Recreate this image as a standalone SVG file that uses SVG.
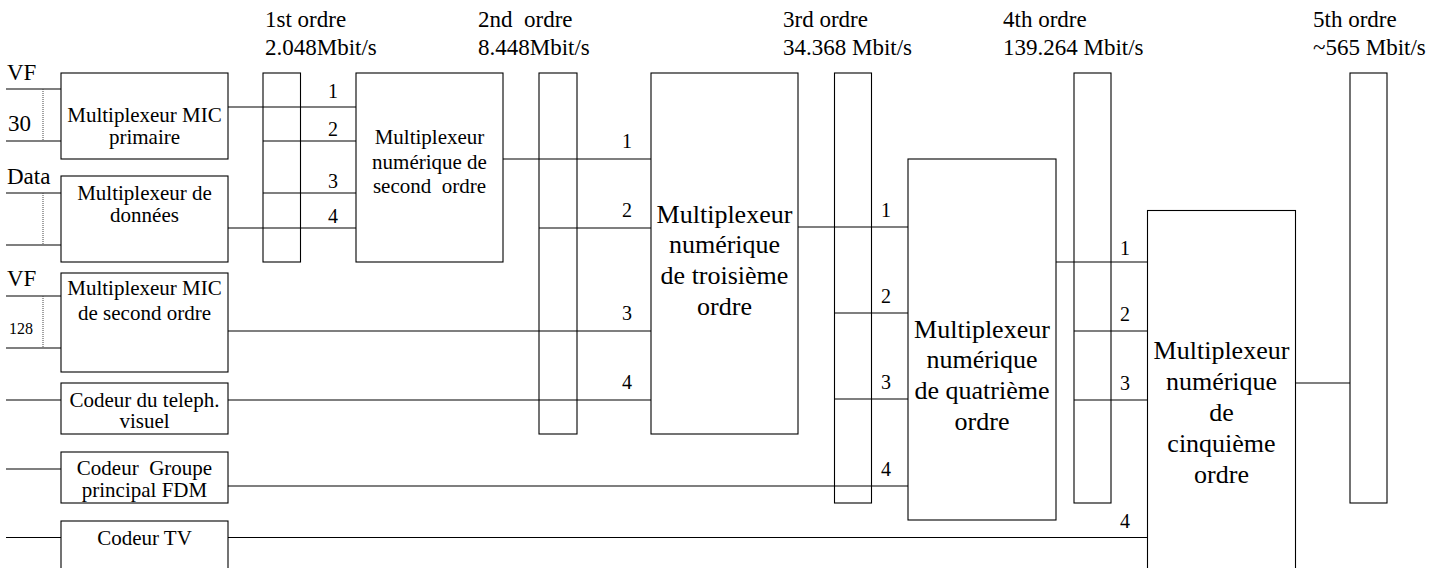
<svg xmlns="http://www.w3.org/2000/svg" width="1434" height="568" viewBox="0 0 1434 568">
<style>
  .box { fill: #fff; stroke: #000; stroke-width: 1.1; }
  .bar { fill: none; stroke: #000; stroke-width: 1.1; }
  .ln { stroke: #000; stroke-width: 1.1; fill: none; }
  .dot { stroke: #444; stroke-width: 1; stroke-dasharray: 1 1; fill: none; }
  text { font-family: "Liberation Serif", "Times New Roman", serif; fill: #000; }
  .s { font-size: 21px; text-anchor: middle; }
  .b { font-size: 26px; text-anchor: middle; }
  .h { font-size: 23px; }
  .n { font-size: 20px; text-anchor: middle; }
  .in { font-size: 23px; }
</style>
<rect width="1434" height="568" fill="#fff"/>

<g id="headers">
  <text class="h" x="265" y="27">1st ordre</text>
  <text class="h" x="265" y="55">2.048Mbit/s</text>
  <text class="h" x="478" y="27" xml:space="preserve">2nd  ordre</text>
  <text class="h" x="478" y="55">8.448Mbit/s</text>
  <text class="h" x="783" y="27">3rd ordre</text>
  <text class="h" x="783" y="55">34.368 Mbit/s</text>
  <text class="h" x="1003" y="27">4th ordre</text>
  <text class="h" x="1003" y="55">139.264 Mbit/s</text>
  <text class="h" x="1313" y="27">5th ordre</text>
  <text class="h" x="1313" y="55">~565 Mbit/s</text>
</g>

<g id="inputs">
  <text class="in" x="7" y="80" font-size="24">VF</text>
  <text class="in" x="8" y="131">30</text>
  <text class="in" x="7" y="184" font-size="24">Data</text>
  <text class="in" x="7" y="286" font-size="24">VF</text>
  <text x="9" y="334" font-size="16">128</text>
</g>

<g id="connectors">
  <line class="ln" x1="6" y1="89" x2="61" y2="89"/>
  <line class="ln" x1="6" y1="141" x2="61" y2="141"/>
  <line class="ln" x1="6" y1="193" x2="61" y2="193"/>
  <line class="ln" x1="6" y1="245" x2="61" y2="245"/>
  <line class="ln" x1="6" y1="296" x2="61" y2="296"/>
  <line class="ln" x1="6" y1="348" x2="61" y2="348"/>
  <line class="ln" x1="6" y1="400" x2="61" y2="400"/>
  <line class="ln" x1="6" y1="469" x2="61" y2="469"/>
  <line class="ln" x1="6" y1="537.5" x2="61" y2="537.5"/>
  <line class="dot" x1="43" y1="89" x2="43" y2="141"/>
  <line class="dot" x1="43" y1="193" x2="43" y2="245"/>
  <line class="dot" x1="43" y1="296" x2="43" y2="348"/>

  <line class="ln" x1="228" y1="107" x2="356" y2="107"/>
  <line class="ln" x1="263" y1="141" x2="356" y2="141"/>
  <line class="ln" x1="263" y1="193" x2="356" y2="193"/>
  <line class="ln" x1="228" y1="228" x2="356" y2="228"/>

  <line class="ln" x1="503" y1="159" x2="651" y2="159"/>
  <line class="ln" x1="539" y1="228" x2="651" y2="228"/>
  <line class="ln" x1="228" y1="331" x2="651" y2="331"/>
  <line class="ln" x1="228" y1="400" x2="651" y2="400"/>

  <line class="ln" x1="798" y1="227" x2="908" y2="227"/>
  <line class="ln" x1="834.5" y1="313" x2="908" y2="313"/>
  <line class="ln" x1="834.5" y1="399" x2="908" y2="399"/>
  <line class="ln" x1="228" y1="486" x2="908" y2="486"/>

  <line class="ln" x1="1056" y1="262" x2="1147.5" y2="262"/>
  <line class="ln" x1="1074" y1="331" x2="1147.5" y2="331"/>
  <line class="ln" x1="1074" y1="400" x2="1147.5" y2="400"/>
  <line class="ln" x1="228" y1="537.5" x2="1147.5" y2="537.5"/>

  <line class="ln" x1="1295.5" y1="383" x2="1350" y2="383"/>

  <text class="n" x="333" y="98">1</text>
  <text class="n" x="333" y="136">2</text>
  <text class="n" x="333" y="188">3</text>
  <text class="n" x="333" y="223">4</text>
  <text class="n" x="627" y="148">1</text>
  <text class="n" x="627" y="217">2</text>
  <text class="n" x="627" y="320">3</text>
  <text class="n" x="627" y="389">4</text>
  <text class="n" x="886" y="217">1</text>
  <text class="n" x="886" y="303">2</text>
  <text class="n" x="886" y="389">3</text>
  <text class="n" x="886" y="476">4</text>
  <text class="n" x="1125" y="255">1</text>
  <text class="n" x="1125" y="321">2</text>
  <text class="n" x="1125" y="390">3</text>
  <text class="n" x="1125" y="528">4</text>
</g>

<g id="mic-primaire">
  <rect class="box" x="61" y="73" width="167" height="86"/>
  <text class="s" x="144.5" y="121.5">Multiplexeur MIC</text>
  <text class="s" x="144.5" y="143.5">primaire</text>
</g>
<g id="mux-donnees">
  <rect class="box" x="61" y="176" width="167" height="86"/>
  <text class="s" x="144.5" y="200">Multiplexeur de</text>
  <text class="s" x="144.5" y="222">données</text>
</g>
<g id="mic-second">
  <rect class="box" x="61" y="273" width="167" height="99"/>
  <text class="s" x="144.5" y="295">Multiplexeur MIC</text>
  <text class="s" x="144.5" y="320">de second ordre</text>
</g>
<g id="codeur-teleph">
  <rect class="box" x="61" y="383" width="167" height="51"/>
  <text class="s" x="144.5" y="406.5">Codeur du teleph.</text>
  <text class="s" x="144.5" y="428">visuel</text>
</g>
<g id="codeur-fdm">
  <rect class="box" x="61" y="452" width="167" height="51"/>
  <text class="s" x="144.5" y="475" xml:space="preserve">Codeur  Groupe</text>
  <text class="s" x="144.5" y="497">principal FDM</text>
</g>
<g id="codeur-tv">
  <rect class="box" x="61" y="521" width="167" height="60"/>
  <text class="s" x="144.5" y="545">Codeur TV</text>
</g>

<g id="bar1"><rect class="bar" x="263" y="73" width="37.5" height="189"/></g>
<g id="mux2">
  <rect class="box" x="356" y="73" width="147" height="189"/>
  <text class="s" x="429.5" y="144">Multiplexeur</text>
  <text class="s" x="429.5" y="169">numérique de</text>
  <text class="s" x="429.5" y="193" xml:space="preserve">second  ordre</text>
</g>
<g id="bar2"><rect class="bar" x="539" y="73" width="38" height="361"/></g>
<g id="mux3">
  <rect class="box" x="651" y="73" width="147" height="361"/>
  <text class="b" x="724.5" y="222.5">Multiplexeur</text>
  <text class="b" x="724.5" y="253">numérique</text>
  <text class="b" x="724.5" y="284">de troisième</text>
  <text class="b" x="724.5" y="315">ordre</text>
</g>
<g id="bar3"><rect class="bar" x="834.5" y="73" width="37" height="430"/></g>
<g id="mux4">
  <rect class="box" x="908" y="159" width="148" height="361"/>
  <text class="b" x="982" y="337.5">Multiplexeur</text>
  <text class="b" x="982" y="368">numérique</text>
  <text class="b" x="982" y="399">de quatrième</text>
  <text class="b" x="982" y="430">ordre</text>
</g>
<g id="bar4"><rect class="bar" x="1074" y="73" width="37" height="430"/></g>
<g id="mux5">
  <rect class="box" x="1147.5" y="210.5" width="148" height="400"/>
  <text class="b" x="1221.5" y="359">Multiplexeur</text>
  <text class="b" x="1221.5" y="390">numérique</text>
  <text class="b" x="1221.5" y="421">de</text>
  <text class="b" x="1221.5" y="452">cinquième</text>
  <text class="b" x="1221.5" y="483">ordre</text>
</g>
<g id="bar5"><rect class="bar" x="1350" y="73" width="37" height="430"/></g>
</svg>
